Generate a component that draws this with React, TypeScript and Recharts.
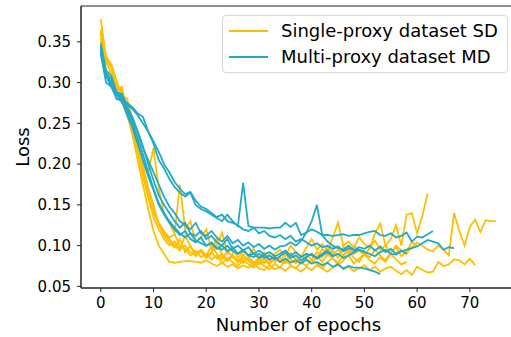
import { LineChart, Line, XAxis, YAxis, ReferenceArea, Legend, Label } from "recharts";

// ─── Colours / fonts ────────────────────────────────────────────────────────

const YELLOW = "#ffbf00";
const BLUE = "#22a9c8";
const AXIS = "#222";
const FONT = "DejaVu Sans, sans-serif";

// ─── Data (loss per epoch, index = epoch) ───────────────────────────────────

const SD_1 = [
  0.378, 0.33, 0.318, 0.295, 0.29, 0.27, 0.25, 0.215, 0.19, 0.16,
  0.135, 0.12, 0.108, 0.1, 0.105, 0.096, 0.1, 0.092, 0.088, 0.094,
  0.086, 0.092, 0.084, 0.09, 0.081, 0.087, 0.083, 0.079, 0.086, 0.08,
  0.077, 0.084, 0.079, 0.086, 0.08, 0.078, 0.089, 0.082, 0.079, 0.085,
  0.09, 0.084, 0.096, 0.088, 0.094, 0.085, 0.099, 0.09, 0.1, 0.094,
  0.088, 0.097, 0.106, 0.095, 0.1, 0.091, 0.1, 0.094, 0.09, 0.098,
  0.104, 0.1, 0.095, 0.093, 0.1, 0.095, 0.088, 0.14, 0.118, 0.1,
  0.123, 0.132, 0.117, 0.131, 0.13, 0.13,
];
const SD_2 = [
  0.365, 0.326, 0.31, 0.293, 0.28, 0.262, 0.236, 0.205, 0.175, 0.145,
  0.118, 0.1, 0.09, 0.08, 0.079, 0.08, 0.081, 0.081, 0.08, 0.079,
  0.082, 0.078, 0.075, 0.079, 0.074, 0.077, 0.072, 0.076, 0.073, 0.078,
  0.072, 0.07, 0.076, 0.071, 0.074, 0.069, 0.075, 0.072, 0.068, 0.074,
  0.07, 0.076, 0.072, 0.068, 0.073, 0.077, 0.071, 0.074, 0.069, 0.072,
  0.076, 0.07, 0.074, 0.068, 0.072, 0.074, 0.069, 0.065, 0.07, 0.064,
  0.074, 0.07, 0.067, 0.068, 0.08, 0.075, 0.077, 0.083, 0.082, 0.077,
  0.084, 0.076,
];
const SD_3 = [
  0.36, 0.325, 0.322, 0.3, 0.285, 0.28, 0.255, 0.232, 0.2, 0.19,
  0.22, 0.17, 0.14, 0.128, 0.115, 0.175, 0.12, 0.13, 0.105, 0.11,
  0.12, 0.095, 0.1, 0.116, 0.09, 0.098, 0.085, 0.093, 0.088, 0.096,
  0.085, 0.092, 0.082, 0.09, 0.095, 0.087, 0.1, 0.092, 0.086, 0.098,
  0.108, 0.095, 0.102, 0.094, 0.11, 0.128, 0.1, 0.105, 0.097, 0.11,
  0.102, 0.096, 0.115, 0.127, 0.1, 0.108, 0.125, 0.1, 0.138, 0.14,
  0.115, 0.137, 0.164,
];
const SD_4 = [
  0.355, 0.31, 0.312, 0.29, 0.295, 0.265, 0.25, 0.22, 0.198, 0.17,
  0.15, 0.126, 0.115, 0.108, 0.1, 0.094, 0.113, 0.099, 0.09, 0.095,
  0.088, 0.1, 0.09, 0.083, 0.094, 0.086, 0.08, 0.089, 0.083, 0.078,
  0.086, 0.081, 0.077, 0.085, 0.08, 0.09, 0.083, 0.078, 0.088, 0.082,
  0.078, 0.087, 0.08, 0.09, 0.084, 0.079, 0.088, 0.093, 0.085, 0.08,
  0.09, 0.086, 0.095, 0.088, 0.082, 0.092, 0.098, 0.087, 0.093, 0.104,
  0.1,
];
const SD_5 = [
  0.35, 0.312, 0.3, 0.286, 0.276, 0.26, 0.24, 0.214, 0.185, 0.16,
  0.14, 0.128, 0.118, 0.11, 0.114, 0.1, 0.096, 0.088, 0.094, 0.086,
  0.09, 0.083, 0.088, 0.078, 0.085, 0.08, 0.075, 0.082, 0.077, 0.073,
  0.08, 0.075, 0.071, 0.078, 0.073, 0.082, 0.076, 0.072, 0.08, 0.075,
  0.083, 0.078, 0.072, 0.08, 0.085, 0.076, 0.082, 0.088, 0.078, 0.084,
  0.09, 0.082, 0.078, 0.086, 0.08, 0.09, 0.083, 0.077, 0.08,
];
const SD_6 = [
  0.362, 0.332, 0.322, 0.302, 0.282, 0.266, 0.25, 0.226, 0.196, 0.17,
  0.146, 0.126, 0.112, 0.104, 0.098, 0.108, 0.092, 0.1, 0.087, 0.093,
  0.085, 0.091, 0.11, 0.087, 0.082, 0.09, 0.079, 0.086, 0.081, 0.076,
  0.083, 0.078, 0.088, 0.08, 0.085, 0.079, 0.091, 0.084, 0.08, 0.088,
  0.083, 0.092, 0.086, 0.1, 0.089, 0.095, 0.088, 0.096, 0.09, 0.094,
  0.09,
];

const MD_1 = [
  0.345, 0.31, 0.305, 0.288, 0.286, 0.272, 0.268, 0.26, 0.25, 0.24,
  0.228, 0.215, 0.2, 0.19, 0.178, 0.17, 0.163, 0.166, 0.155, 0.148,
  0.145, 0.14, 0.135, 0.138, 0.13, 0.128, 0.125, 0.12, 0.118, 0.122,
  0.115, 0.118, 0.112, 0.11, 0.113, 0.108, 0.112, 0.105, 0.108, 0.104,
  0.1, 0.103, 0.098, 0.1, 0.096, 0.099, 0.093, 0.097, 0.095, 0.095,
  0.092, 0.09, 0.087, 0.092, 0.095, 0.09, 0.089, 0.093, 0.095, 0.097,
  0.099, 0.103, 0.107, 0.105, 0.103, 0.095, 0.098, 0.097,
];
const MD_2 = [
  0.34, 0.312, 0.3, 0.288, 0.28, 0.275, 0.27, 0.262, 0.258, 0.24,
  0.225, 0.205, 0.195, 0.182, 0.172, 0.165, 0.16, 0.165, 0.15, 0.145,
  0.142, 0.138, 0.134, 0.13, 0.138, 0.13, 0.124, 0.177, 0.124, 0.122,
  0.122, 0.122, 0.121, 0.122, 0.122, 0.128, 0.123, 0.128, 0.113, 0.116,
  0.12, 0.117, 0.113, 0.113, 0.112, 0.113, 0.114, 0.112, 0.113, 0.113,
  0.115, 0.117, 0.118, 0.113, 0.112, 0.115, 0.11, 0.112, 0.116, 0.105,
  0.111, 0.11, 0.114, 0.118,
];
const MD_3 = [
  0.335, 0.3, 0.295, 0.28, 0.278, 0.26, 0.245, 0.225, 0.205, 0.185,
  0.168, 0.15, 0.138, 0.128, 0.12, 0.113, 0.118, 0.108, 0.104, 0.11,
  0.1, 0.103, 0.096, 0.1, 0.093, 0.098, 0.09, 0.094, 0.088, 0.09,
  0.085, 0.088, 0.083, 0.086, 0.08, 0.084, 0.079, 0.082, 0.078, 0.083,
  0.078, 0.08, 0.076, 0.079, 0.074, 0.077, 0.072, 0.075, 0.073, 0.073,
  0.072, 0.07, 0.068, 0.065,
];
const MD_4 = [
  0.342, 0.31, 0.296, 0.286, 0.278, 0.268, 0.255, 0.24, 0.22, 0.205,
  0.19, 0.175, 0.16, 0.148, 0.14, 0.13, 0.125, 0.12, 0.128, 0.115,
  0.112, 0.118, 0.11, 0.105, 0.112, 0.103, 0.107, 0.1, 0.104, 0.098,
  0.102, 0.096, 0.1, 0.095, 0.099, 0.1, 0.104, 0.1, 0.106, 0.116,
  0.13, 0.15, 0.113, 0.105, 0.1, 0.097, 0.095, 0.1, 0.094, 0.098,
  0.096, 0.1, 0.094, 0.099, 0.092, 0.096, 0.09, 0.094, 0.09,
];
const MD_5 = [
  0.348, 0.315, 0.308, 0.288, 0.284, 0.27, 0.258, 0.24, 0.222, 0.2,
  0.18, 0.162, 0.15, 0.14, 0.13, 0.122, 0.128, 0.115, 0.112, 0.118,
  0.108, 0.112, 0.104, 0.1, 0.108, 0.096, 0.1, 0.094, 0.098, 0.09,
  0.094, 0.089, 0.092, 0.087, 0.09, 0.094, 0.088, 0.092, 0.086, 0.09,
  0.088, 0.085, 0.09, 0.094, 0.087, 0.09, 0.085, 0.088, 0.092, 0.095,
  0.093,
];
const MD_6 = [
  0.338, 0.308, 0.295, 0.285, 0.276, 0.265, 0.25, 0.232, 0.212, 0.19,
  0.17, 0.152, 0.14, 0.13, 0.122, 0.115, 0.11, 0.115, 0.106, 0.103,
  0.1, 0.104, 0.097, 0.095, 0.1, 0.093, 0.09, 0.095, 0.088, 0.086,
  0.09, 0.085, 0.088, 0.083, 0.087, 0.092, 0.085, 0.088, 0.082, 0.086,
  0.09, 0.084, 0.088, 0.092, 0.087, 0.09,
];

const SD_RUNS = [SD_1, SD_2, SD_3, SD_4, SD_5, SD_6];
const MD_RUNS = [MD_1, MD_2, MD_3, MD_4, MD_5, MD_6];

const X_TICKS = [0, 10, 20, 30, 40, 50, 60, 70];
const Y_TICKS = [0.05, 0.1, 0.15, 0.2, 0.25, 0.3, 0.35];
const X_DOMAIN: [number, number] = [-3.75, 78.75];
const Y_DOMAIN: [number, number] = [0.048, 0.394];

const LEGEND_ITEMS = [
  { label: "Single-proxy dataset SD", color: YELLOW },
  { label: "Multi-proxy dataset MD", color: BLUE },
];

// build one row per epoch
const maxLen = Math.max(...SD_RUNS.map((r) => r.length), ...MD_RUNS.map((r) => r.length));
const data = Array.from({ length: maxLen }, (_, epoch) => {
  const row: Record<string, number | undefined> = { epoch };
  SD_RUNS.forEach((r, i) => (row[`sd${i}`] = r[epoch]));
  MD_RUNS.forEach((r, i) => (row[`md${i}`] = r[epoch]));
  return row;
});

// ─── Legend box ─────────────────────────────────────────────────────────────

function LegendBox() {
  return (
    <div
      style={{
        width: 284,
        height: 56,
        border: "1px solid #d6d6d6",
        borderRadius: 4,
        background: "rgba(255,255,255,0.8)",
        position: "relative",
        fontFamily: FONT,
        fontSize: 18,
        color: "#000",
      }}
    >
      {LEGEND_ITEMS.map((item, i) => (
        <div key={item.label}>
          <div
            style={{
              position: "absolute",
              left: 6,
              top: 14 + i * 26,
              width: 39,
              height: 2,
              background: item.color,
            }}
          />
          <div
            style={{
              position: "absolute",
              left: 58,
              top: 15 + i * 26 - 11,
              lineHeight: "22px",
              whiteSpace: "nowrap",
            }}
          >
            {item.label}
          </div>
        </div>
      ))}
    </div>
  );
}

// ─── Chart ──────────────────────────────────────────────────────────────────

export default function App() {
  const tick = { fontSize: 15, fill: "#000", fontFamily: FONT };
  return (
    <div
      style={{
        position: "absolute",
        left: 0,
        top: 0,
        width: 511,
        height: 337,
        overflow: "hidden",
        background: "#fff",
      }}
    >
      <LineChart
        width={540}
        height={337}
        data={data}
        margin={{ top: 6, right: 24, bottom: 0, left: 0 }}
      >
        <XAxis
          dataKey="epoch"
          type="number"
          domain={X_DOMAIN}
          ticks={X_TICKS}
          allowDataOverflow
          height={49}
          tick={tick}
          tickSize={4}
          tickMargin={5}
          axisLine={{ stroke: AXIS }}
          tickLine={{ stroke: AXIS }}
        >
          <Label
            value="Number of epochs"
            position="insideBottom"
            offset={6}
            style={{ fontSize: 18, fill: "#000", fontFamily: FONT }}
          />
        </XAxis>
        <YAxis
          type="number"
          domain={Y_DOMAIN}
          ticks={Y_TICKS}
          allowDataOverflow
          width={81}
          tick={tick}
          tickSize={4}
          tickMargin={6}
          tickFormatter={(v: number) => v.toFixed(2)}
          axisLine={{ stroke: AXIS }}
          tickLine={{ stroke: AXIS }}
        >
          <Label
            content={() => (
              <text
                x={22}
                y={147}
                transform="rotate(-90, 22, 147)"
                textAnchor="middle"
                dominantBaseline="central"
                style={{ fontSize: 18, fill: "#000", fontFamily: FONT }}
              >
                Loss
              </text>
            )}
          />
        </YAxis>
        <ReferenceArea
          x1={X_DOMAIN[0]}
          x2={X_DOMAIN[1]}
          y1={Y_DOMAIN[0]}
          y2={Y_DOMAIN[1]}
          fill="none"
          stroke={AXIS}
          strokeWidth={1}
          ifOverflow="visible"
        />
        {SD_RUNS.map((_, i) => (
          <Line
            key={`sd${i}`}
            type="linear"
            dataKey={`sd${i}`}
            stroke={YELLOW}
            strokeWidth={1.8}
            dot={false}
            isAnimationActive={false}
          />
        ))}
        {MD_RUNS.map((_, i) => (
          <Line
            key={`md${i}`}
            type="linear"
            dataKey={`md${i}`}
            stroke={BLUE}
            strokeWidth={1.8}
            dot={false}
            isAnimationActive={false}
          />
        ))}
        <Legend
          layout="horizontal"
          align="center"
          verticalAlign="middle"
          content={() => <LegendBox />}
          wrapperStyle={{ left: 222, top: 15, width: 286, height: 58 }}
        />
      </LineChart>
    </div>
  );
}
